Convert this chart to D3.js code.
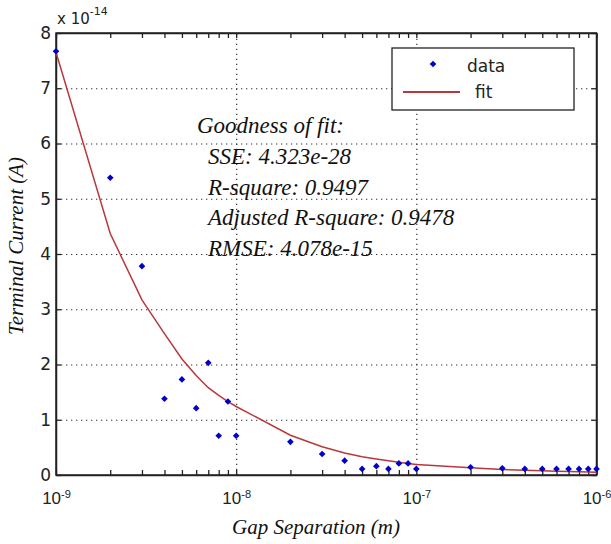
<!DOCTYPE html>
<html>
<head>
<meta charset="utf-8">
<script src="https://cdn.jsdelivr.net/npm/d3@7"></script>
<style>
  body { margin: 0; background: #fff; }
  svg { display: block; }
</style>
</head>
<body>
<div id="vis"></div>
<script>
// Gap separation (m) and terminal current (units of 1e-14 A)
var gapSep = [1e-9, 2e-9, 3e-9, 4e-9, 5e-9, 6e-9, 7e-9, 8e-9, 9e-9,
  1e-8, 2e-8, 3e-8, 4e-8, 5e-8, 6e-8, 7e-8, 8e-8, 9e-8,
  1e-7, 2e-7, 3e-7, 4e-7, 5e-7, 6e-7, 7e-7, 8e-7, 9e-7, 1e-6];
var current = [7.67, 5.38, 3.78, 1.38, 1.73, 1.21, 2.03, 0.71, 1.33,
  0.71, 0.60, 0.38, 0.26, 0.11, 0.16, 0.11, 0.21, 0.21,
  0.11, 0.14, 0.12, 0.11, 0.11, 0.11, 0.11, 0.11, 0.11, 0.11];
var fitCurrent = [7.65, 4.37, 3.17, 2.56, 2.10, 1.80, 1.58, 1.44, 1.33,
  1.24, 0.72, 0.51, 0.40, 0.33, 0.29, 0.26, 0.23, 0.21,
  0.19, 0.13, 0.10, 0.085, 0.075, 0.068, 0.062, 0.058, 0.055, 0.052];

var xLabelTicks = [1e-9, 1e-8, 1e-7, 1e-6];
var xLabelExp = ["-9", "-8", "-7", "-6"];
var yTicks = [0, 1, 2, 3, 4, 5, 6, 7, 8];
var yGrid = [1, 2, 3, 4, 5, 6, 7];
var xGrid = [1e-8, 1e-7];
var fitText = ["Goodness of fit:", "SSE: 4.323e-28", "R-square: 0.9497",
  "Adjusted R-square: 0.9478", "RMSE: 4.078e-15"];

var width = 611, height = 544;
var plotL = 56, plotR = 596.5, plotT = 33, plotB = 475;
var sansFont = "'DejaVu Sans', Arial, sans-serif";
var arialFont = "'Liberation Sans', Arial, sans-serif";
var serifFont = "'Liberation Serif', 'Times New Roman', serif";
var fitColor = '#b8383c';
var dotColor = '#0000c8';

var svg = d3.select('#vis').append('svg')
  .attr('width', width)
  .attr('height', height);

var x = d3.scaleLog().domain([1e-9, 1e-6]).range([plotL, plotR]);
var y = d3.scaleLinear().domain([0, 8]).range([plotB, plotT]);

// dotted grid
svg.append('g')
  .attr('transform', 'translate(' + plotL + ',0)')
  .call(d3.axisLeft(y).tickValues(yGrid).tickSize(-(plotR - plotL)).tickFormat(''))
  .call(function (g) { g.select('.domain').remove(); })
  .selectAll('line')
  .attr('class', 'grid')
  .attr('stroke', '#333')
  .attr('stroke-width', 1.2)
  .attr('stroke-dasharray', '1.3,3.7');

svg.append('g')
  .attr('transform', 'translate(0,' + plotB + ')')
  .call(d3.axisBottom(x).tickValues(xGrid).tickSize(-(plotB - plotT)).tickFormat(''))
  .call(function (g) { g.select('.domain').remove(); })
  .selectAll('line')
  .attr('class', 'grid')
  .attr('stroke', '#333')
  .attr('stroke-width', 1.2)
  .attr('stroke-dasharray', '1.3,3.7');

// axes (ticks inward)
var xAxis = svg.append('g')
  .attr('transform', 'translate(0,' + plotB + ')')
  .call(d3.axisBottom(x).tickValues(x.ticks()).tickSizeInner(-5).tickSizeOuter(0)
    .tickPadding(17).tickFormat(''));

xAxis.selectAll('.tick')
  .filter(function (d) { return xLabelTicks.indexOf(d) >= 0; })
  .select('text')
  .attr('class', 'xlab')
  .each(function (d) {
    var t = d3.select(this);
    t.append('tspan').text('10');
    t.append('tspan')
      .attr('dy', '-0.55em')
      .attr('font-size', 11)
      .text(xLabelExp[xLabelTicks.indexOf(d)]);
  });

svg.append('g')
  .attr('transform', 'translate(0,' + plotT + ')')
  .call(d3.axisTop(x).tickValues(x.ticks()).tickSizeInner(-5).tickSizeOuter(0).tickFormat(''));

svg.append('g')
  .attr('transform', 'translate(' + plotL + ',0)')
  .call(d3.axisLeft(y).tickValues(yTicks).tickSizeInner(-5).tickSizeOuter(0)
    .tickPadding(5).tickFormat(d3.format('d')));

svg.append('g')
  .attr('transform', 'translate(' + plotR + ',0)')
  .call(d3.axisRight(y).tickValues(yTicks).tickSizeInner(-5).tickSizeOuter(0).tickFormat(''));

svg.selectAll('.tick line:not(.grid)')
  .attr('stroke', '#222')
  .attr('stroke-width', 1.3);
svg.selectAll('.domain').attr('stroke', '#222').attr('stroke-width', 1.5);
svg.selectAll('.tick text')
  .attr('fill', '#222')
  .attr('font-family', sansFont)
  .attr('font-size', 17);
svg.selectAll('.xlab')
  .attr('font-family', arialFont)
  .attr('font-size', 17);

// box
svg.append('rect')
  .attr('x', plotL).attr('y', plotT)
  .attr('width', plotR - plotL).attr('height', plotB - plotT)
  .attr('fill', 'none')
  .attr('stroke', '#222')
  .attr('stroke-width', 1.5);

// exponent label
var expLabel = svg.append('text')
  .attr('x', 57).attr('y', 24)
  .attr('font-family', sansFont)
  .attr('font-size', 15)
  .attr('fill', '#222');
expLabel.append('tspan').text('x 10');
expLabel.append('tspan').attr('dy', -9).attr('font-size', 11).text('-14');

// annotation text
svg.append('g').selectAll('text')
  .data(fitText)
  .enter().append('text')
  .attr('x', function (d, i) { return i === 0 ? 197 : 208; })
  .attr('y', function (d, i) { return 133 + i * 30.8; })
  .attr('font-family', serifFont)
  .attr('font-style', 'italic')
  .attr('font-size', 23)
  .attr('fill', '#111')
  .text(function (d) { return d; });

// fit line
var line = d3.line()
  .x(function (d, i) { return x(gapSep[i]); })
  .y(function (d) { return y(d); });

svg.append('path')
  .datum(fitCurrent)
  .attr('d', line)
  .attr('fill', 'none')
  .attr('stroke', fitColor)
  .attr('stroke-width', 1.5);

// data points (square turned 45 degrees)
var diamond = d3.symbol().type(d3.symbolSquare).size(22);
svg.append('g').selectAll('path')
  .data(current)
  .enter().append('path')
  .attr('d', diamond)
  .attr('transform', function (d, i) {
    return 'translate(' + x(gapSep[i]) + ',' + y(d) + ') rotate(45)';
  })
  .attr('fill', dotColor);

// legend
var legend = svg.append('g');
legend.append('rect')
  .attr('x', 392).attr('y', 48)
  .attr('width', 182).attr('height', 62)
  .attr('fill', '#fff')
  .attr('stroke', '#222')
  .attr('stroke-width', 1.3);
legend.append('path')
  .attr('d', diamond)
  .attr('transform', 'translate(433,64) rotate(45)')
  .attr('fill', dotColor);
legend.append('text')
  .attr('x', 467).attr('y', 72)
  .attr('font-family', sansFont).attr('font-size', 17).attr('fill', '#222')
  .text('data');
legend.append('line')
  .attr('x1', 403).attr('x2', 460)
  .attr('y1', 92).attr('y2', 92)
  .attr('stroke', fitColor)
  .attr('stroke-width', 2);
legend.append('text')
  .attr('x', 475).attr('y', 98)
  .attr('font-family', sansFont).attr('font-size', 17).attr('fill', '#222')
  .text('fit');

// axis titles
svg.append('text')
  .attr('x', 316).attr('y', 534)
  .attr('text-anchor', 'middle')
  .attr('font-family', serifFont).attr('font-style', 'italic')
  .attr('font-size', 21).attr('fill', '#111')
  .text('Gap Separation (m)');

svg.append('text')
  .attr('transform', 'translate(23,246) rotate(-90)')
  .attr('text-anchor', 'middle')
  .attr('font-family', serifFont).attr('font-style', 'italic')
  .attr('font-size', 21).attr('fill', '#111')
  .text('Terminal Current (A)');
</script>
</body>
</html>
